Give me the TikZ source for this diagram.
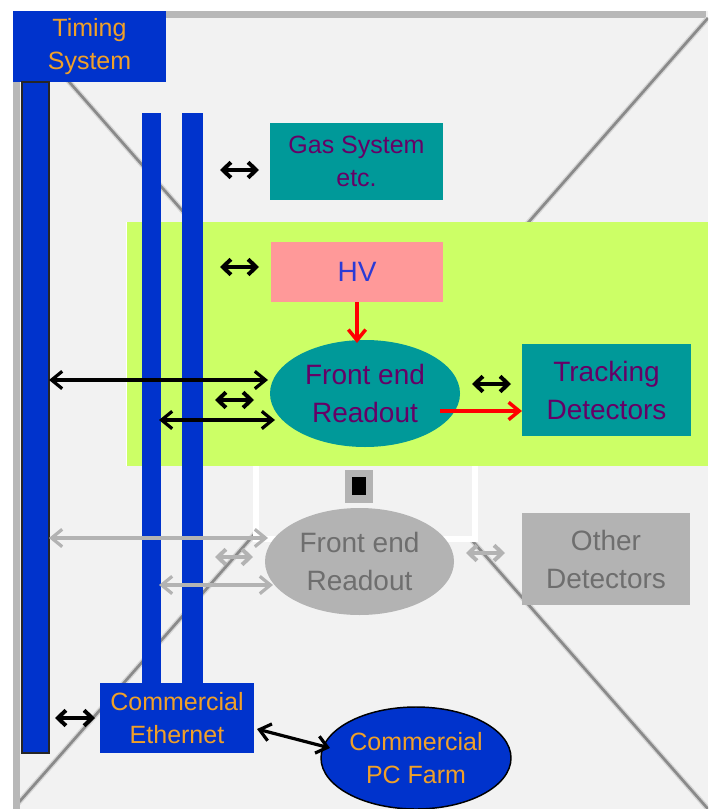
\documentclass[tikz,border=0pt]{standalone}
\usepackage{fontspec}
\setmainfont{Liberation Sans}
\usetikzlibrary{shapes.geometric,arrows.meta,calc}

\definecolor{panelgray}{HTML}{F2F2F2}
\definecolor{edgegray}{HTML}{B8B8B8}
\definecolor{bblue}{HTML}{0033CC}
\definecolor{ortext}{HTML}{F0A028}
\definecolor{lime}{HTML}{CCFF66}
\definecolor{tealbox}{HTML}{009999}
\definecolor{plum}{HTML}{660066}
\definecolor{rose}{HTML}{FF9999}
\definecolor{hvblue}{HTML}{2B3BD6}
\definecolor{ghost}{HTML}{B3B3B3}
\definecolor{ghosttext}{HTML}{6E6E6E}
\definecolor{diagdark}{HTML}{8A8A8A}
\definecolor{diaglight}{HTML}{D6D6D6}

\begin{document}
\begin{tikzpicture}[x=0.75pt,y=-0.75pt,
  sz/.style 2 args={minimum width=#1*0.75pt, minimum height=#2*0.75pt},
  boxnode/.style={rectangle, inner sep=0pt, outer sep=0pt, align=center},
  ovalnode/.style={ellipse, inner sep=0pt, outer sep=0pt, align=center},
  txtS/.style={font=\fontsize{18.75}{24.75}\selectfont},
  txtL/.style={font=\fontsize{21}{28.5}\selectfont},
  bluebox/.style={boxnode, fill=bblue, text=ortext, txtS},
  tealrect/.style={boxnode, fill=tealbox, text=plum},
  bar/.style={boxnode, fill=bblue},
  thinarrow/.style={line width=2.4pt, {Straight Barb[length=8pt,width=13pt]}-{Straight Barb[length=8pt,width=13pt]}},
  chunkyarrow/.style={line width=3pt, {Straight Barb[length=6pt,width=11.5pt]}-{Straight Barb[length=6pt,width=11.5pt]}},
  feed/.style={line width=2.6pt, red, -{Straight Barb[length=8pt,width=13pt]}},
  diag/.style={line width=4pt, diaglight},
  diagcore/.style={line width=2pt, diagdark}
]
\useasboundingbox (0,0) rectangle (708,809);
\fill[white] (0,0) rectangle (708,809);

% background panel with its bevel edges
\fill[panelgray] (13,11) rectangle (708,809);
\fill[edgegray] (13,11) rectangle (706,18);
\fill[edgegray] (13,11) rectangle (20,809);

% crossed diagonals of the panel
\begin{scope}
  \clip (20,18) rectangle (708,809);
  \draw[diag] (13,18) -- (708,809);
  \draw[diag] (708,18) -- (13,809);
  \draw[diagcore] (13,18) -- (708,809);
  \draw[diagcore] (708,18) -- (13,809);
\end{scope}

% empty frame below the detector panel
\draw[white, line width=4.5pt, fill=panelgray] (256,460) rectangle (475,539);
\fill[ghost] (345,470) rectangle (373,503);
\fill[black] (352,477) rectangle (366,495);

% detector panel
\fill[lime] (126,222) rectangle (708,466);
\draw[white, line width=0.75pt] (126,466) -- (126,222);

% boxes
\node[bluebox, sz={153}{71}] (timing) at (89.5,46.5) {Timing\\System};
\node[tealrect, txtS, sz={173}{77}] (gas) at (356.5,161.5) {Gas System\\etc.};
\node[boxnode, fill=rose, text=hvblue, txtL, sz={172}{60}] (hv) at (357,272) {HV};
\node[ovalnode, fill=tealbox, text=plum, txtL, sz={190}{107}] (fe) at (365,393.5) {Front end\\Readout};
\node[tealrect, txtL, sz={169}{92}] (track) at (606.5,390) {Tracking\\Detectors};
\node[ovalnode, fill=ghost, text=ghosttext, txtL, sz={189}{107}] (fe2) at (359.5,561.5) {Front end\\Readout};
\node[boxnode, fill=ghost, text=ghosttext, txtL, sz={168}{92}] (other) at (606,559) {Other\\Detectors};

% bus bars
\node[bar, draw=black!85, line width=0.8pt, sz={27}{671}] (barL) at (35.5,417.5) {};
\node[bar, sz={19}{570}] (barA) at (151.5,398) {};
\node[bar, sz={21}{570}] (barB) at (192.5,398) {};

\node[bluebox, sz={154}{70}] (eth) at (177,718) {Commercial\\Ethernet};
\node[ovalnode, fill=bblue, draw=black, line width=1.1pt, text=ortext, txtS, sz={190}{102}] (farm) at (416,758) {Commercial\\PC Farm};

% loose arrow ends
\coordinate (gasL) at (220,170);
\coordinate (hvL) at (220,267);
\coordinate (feL1) at (268,380);
\coordinate (midL) at (215,400);
\coordinate (midR) at (254,400);
\coordinate (feL2) at (275,420);
\coordinate (trkL) at (472,384);
\coordinate (feOut) at (440,411);
\coordinate (fe2L1) at (268,538);
\coordinate (gmidL) at (215,557);
\coordinate (gmidR) at (253,557);
\coordinate (fe2L2) at (273,585);
\coordinate (othL) at (466,553);
\coordinate (ethL) at (55,718);
\coordinate (ethOut) at (257,729);
\coordinate (farmIn) at (330,748);

% active links
\draw[chunkyarrow] (gasL) -- ($(gas.west |- gasL)+(-11,0)$);
\draw[chunkyarrow] (hvL) -- ($(hv.west |- hvL)+(-12,0)$);
\draw[thinarrow] (barL.east |- feL1) -- (feL1);
\draw[chunkyarrow] (midL) -- (midR);
\draw[thinarrow] ($(barA.east |- feL2)+(-2,0)$) -- (feL2);
\draw[chunkyarrow] (trkL) -- ($(track.west |- trkL)+(-11,0)$);
\draw[feed] (hv.south) -- ($(hv.south |- fe.north)+(0,3)$);
\draw[feed] (feOut) -- (track.west |- feOut);

% inactive links
\draw[thinarrow, ghost] (barL.east |- fe2L1) -- (fe2L1);
\draw[chunkyarrow, ghost] (gmidL) -- (gmidR);
\draw[thinarrow, ghost] ($(barA.east |- fe2L2)+(-2,0)$) -- (fe2L2);
\draw[chunkyarrow, ghost] (othL) -- ($(other.west |- othL)+(-17,0)$);

% computing links
\draw[chunkyarrow] (ethL) -- ($(eth.west |- ethL)+(-5,0)$);
\draw[thinarrow] (ethOut) -- (farmIn);
\end{tikzpicture}
\end{document}
